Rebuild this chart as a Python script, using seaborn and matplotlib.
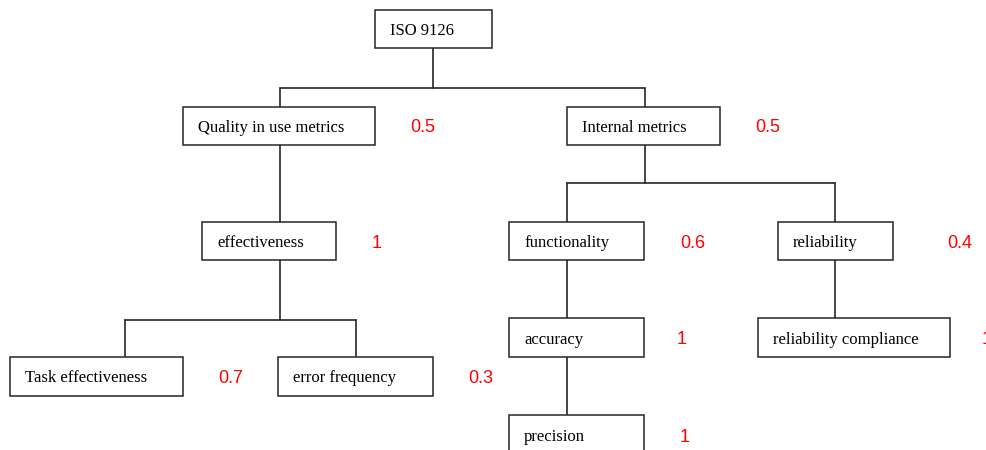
import matplotlib.pyplot as plt
import seaborn as sns
import pandas as pd
from matplotlib.patches import Rectangle

# Tree content: node names, their weights and the parent of each node
labels = ["ISO 9126", "Quality in use metrics", "Internal metrics", "effectiveness",
          "functionality", "reliability", "Task effectiveness", "error frequency",
          "accuracy", "reliability compliance", "precision"]
weights = [None, "0.5", "0.5", "1", "0.6", "0.4", "0.7", "0.3", "1", "1", "1"]
parents = [None, 0, 0, 1, 2, 2, 3, 3, 4, 5, 8]

# Layout in pixels (y grows downwards)
box_left = [375, 183, 567, 202, 509, 778, 10, 278, 509, 758, 509]
box_right = [492, 375, 720, 336, 644, 893, 183, 433, 644, 950, 644]
box_top = [10, 107, 107, 222, 222, 222, 357, 357, 318, 318, 415]
box_bottom = [48, 145, 145, 260, 260, 260, 396, 396, 357, 357, 456]
anchor_x = [433, 280, 645, 280, 567, 835, 125, 356, 567, 835, 567]
weight_x = [None, 410, 755, 372, 680, 947, 218, 468, 677, 982, 680]
bus_y = {0: 88, 2: 183, 3: 320}

sns.set_theme(style="white")

# Build the connector segments from the parent list
rows = []
seg = 0
for p in range(len(labels)):
    kids = [i for i, q in enumerate(parents) if q == p]
    if not kids:
        continue
    if len(kids) == 1:
        k = kids[0]
        rows += [(seg, anchor_x[p], box_bottom[p]), (seg, anchor_x[k], box_top[k])]
        seg += 1
        continue
    y_bus = bus_y[p]
    rows += [(seg, anchor_x[p], box_bottom[p]), (seg, anchor_x[p], y_bus)]
    seg += 1
    xs = [anchor_x[k] for k in kids]
    rows += [(seg, min(xs), y_bus), (seg, max(xs), y_bus)]
    seg += 1
    for k in kids:
        rows += [(seg, anchor_x[k], y_bus), (seg, anchor_x[k], box_top[k])]
        seg += 1

lines = pd.DataFrame(rows, columns=["seg", "x", "y"])

fig = plt.figure(figsize=(9.87, 4.5), dpi=100)
ax = fig.add_axes([0, 0, 1, 1])

sns.lineplot(data=lines, x="x", y="y", units="seg", estimator=None, sort=False,
             color="#262626", linewidth=1.2, legend=False, ax=ax)

for i, name in enumerate(labels):
    w = box_right[i] - box_left[i]
    h = box_bottom[i] - box_top[i]
    ax.add_patch(Rectangle((box_left[i], box_top[i]), w, h, facecolor="white",
                           edgecolor="#262626", linewidth=1.1, zorder=3))
    # precision box runs off the bottom edge, so centre its text on the visible row
    yc = (box_top[i] + box_bottom[i]) / 2 if i != 10 else box_top[i] + 20
    ax.text(box_left[i] + 15, yc + 2, name, ha="left", va="center",
            family="Liberation Serif", fontsize=12, color="black", zorder=4)
    if weights[i] is not None:
        ax.text(weight_x[i], yc + 2, weights[i], ha="left", va="center",
                family="Liberation Sans", fontsize=13, color="red", zorder=4)

ax.set_xlim(0, 987)
ax.set_ylim(450, 0)
ax.axis("off")

plt.savefig("out.png", dpi=100)
plt.close()
